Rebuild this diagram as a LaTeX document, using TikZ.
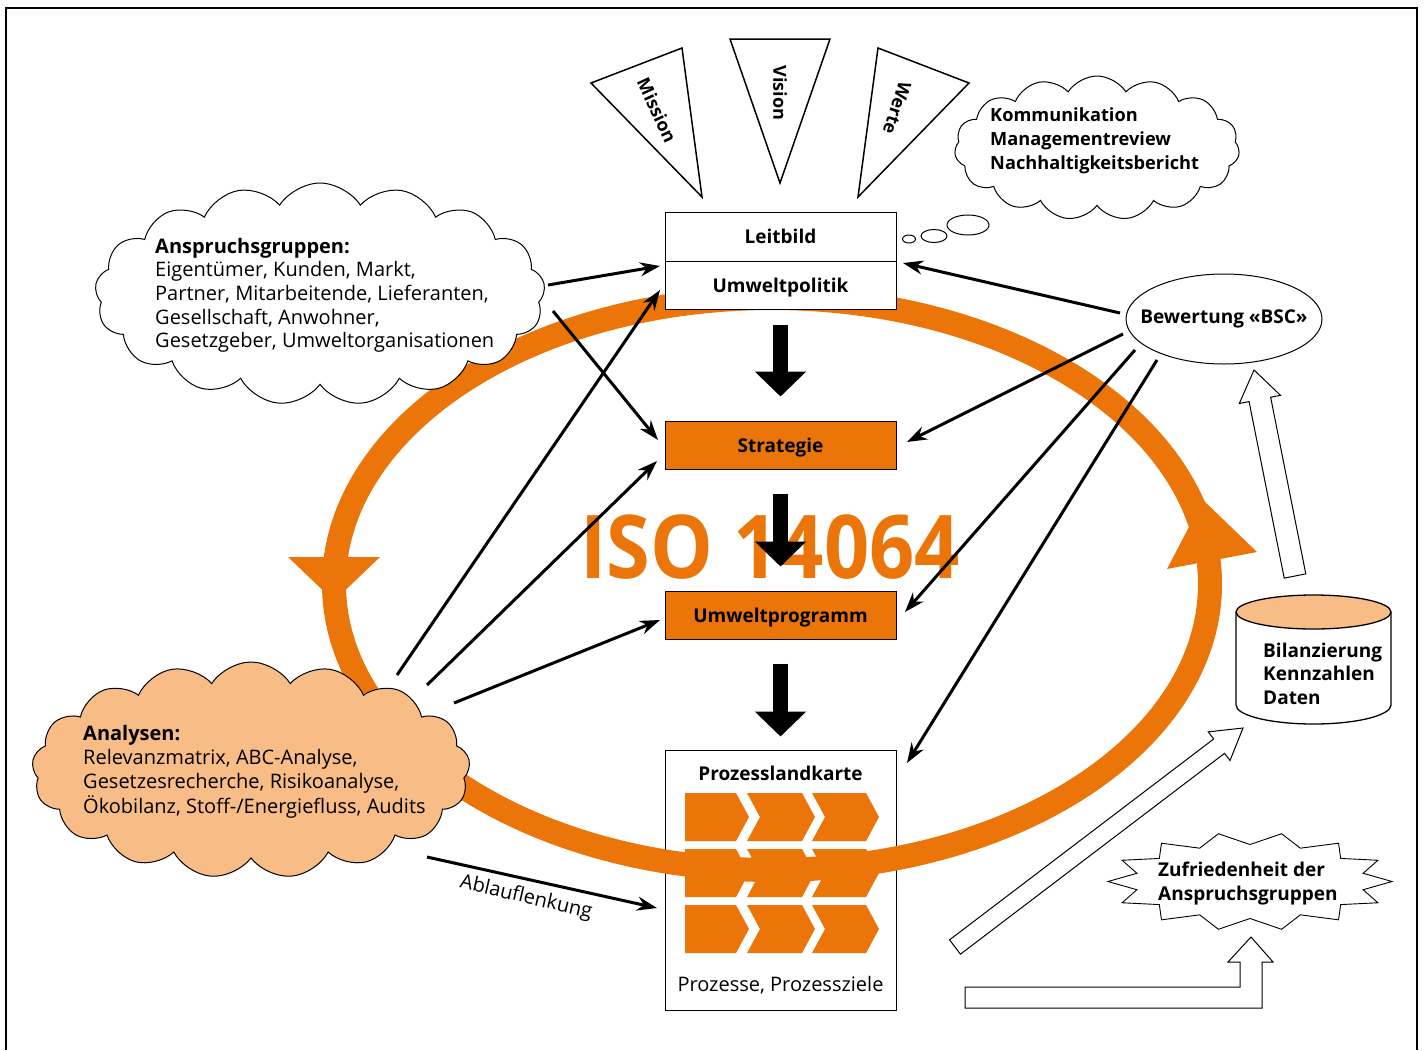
\documentclass[tikz,border=0pt]{standalone}
\usepackage{fontspec}
\setmainfont{Open Sans}
\usetikzlibrary{shapes.symbols,shapes.geometric,arrows.meta,calc}
\definecolor{iso}{HTML}{EB7508}
\definecolor{lightor}{HTML}{F8BC86}
\newcommand{\hollowarr}[5]{%
  \coordinate (hb) at ($(#2)!#5!(#1)$);
  \draw[hollow] ($(#1)!#3!90:(#2)$) -- ($(hb)!#3!-90:(#1)$) -- ($(hb)!#4!-90:(#1)$) -- (#2) -- ($(hb)!#4!90:(#1)$) -- ($(hb)!#3!90:(#1)$) -- ($(#1)!#3!-90:(#2)$) -- cycle;}
\newcommand{\chevrow}[1]{%
  \fill[iso] (685,#1) -- (736,#1) -- (749,#1+24) -- (736,#1+48) -- (685,#1+48) -- cycle;
  \fill[iso] (747,#1) -- (802,#1) -- (815,#1+24) -- (802,#1+48) -- (747,#1+48) -- (760,#1+24) -- cycle;
  \fill[iso] (812,#1) -- (866,#1) -- (879,#1+24) -- (866,#1+48) -- (812,#1+48) -- (825,#1+24) -- cycle;}
\begin{document}
\begin{tikzpicture}[x=1pt,y=-1pt,
  rm/.style={font=\fontsize{20}{23.7}\selectfont},
  bf/.style={font=\fontsize{19}{23.7}\selectfont\bfseries},
  box/.style={draw, line width=1pt, minimum width=231pt, minimum height=48pt, inner sep=0pt,
    text height=16pt, text depth=2pt, font=\fontsize{19}{23.7}\selectfont\bfseries},
  txt/.style={inner sep=0pt, anchor=base west},
  thinarr/.style={line width=3pt, -{Stealth[length=20pt,width=14pt]}},
  fatarr/.style={line width=15pt, -{Triangle[length=25pt,width=50pt]}},
  hollow/.style={draw, line width=1pt, fill=white, line join=miter},
  cloudsty/.style={draw, cloud, cloud puffs=17, cloud puff arc=115, cloud ignores aspect, line width=1pt, inner sep=0pt},
  pennant/.style={draw, line width=1.5pt, fill=white, line join=miter},
  pentext/.style={inner sep=0pt, font=\fontsize{18}{20}\selectfont\bfseries}
]
\useasboundingbox (0,0) rectangle (1424,1050);
% frame
\draw[line width=1.3pt] (6,1050) -- (6,8) -- (1417,8) -- (1417,1050);

% process map box (below ring)
\node[draw, line width=1pt, fill=white, minimum width=231pt, minimum height=260pt, inner sep=0pt] (proz) at (780.5,880) {};
\chevrow{793}
\chevrow{849}
\chevrow{905}

% ring
\draw[iso, line width=24pt] (772,584) ellipse [x radius=438pt, y radius=286pt];
\fill[iso] (288,557) -- (380,557) -- (334,601) -- cycle;
\fill[iso] (1167,569) -- (1257,552) -- (1203,500) -- cycle;

% boxes
\node[box, fill=white, minimum height=49pt] (lb) at (780.5,236.5) {Leitbild};
\node[box, fill=white] (up) at (780.5,285) {Umweltpolitik};
\node[box, fill=iso] (strat) at (780.5,445) {Strategie};
\node[box, fill=iso] (umw) at (780.5,615) {Umweltprogramm};
\node[bf, anchor=base] (proztitle) at (780.5,780.7) {Prozesslandkarte};
\node[rm, anchor=base] (prozsub) at (780.5,991.7) {Prozesse, Prozessziele};

% ISO label
\node[inner sep=0pt, text=iso, xscale=0.9, font=\fontsize{88}{88}\selectfont\bfseries] (isolbl) at (770,547) {ISO 14064};

% fat arrows
\draw[fatarr] ([yshift=-15pt]up.south) -- ([yshift=24pt]strat.north);
\draw[fatarr] ([yshift=-24pt]strat.south) -- ([yshift=24pt]umw.north);
\draw[fatarr] ([yshift=-24pt]umw.south) -- ([yshift=13pt]proz.north);

% pennants
\draw[pennant] (591,83) -- (682,48) -- (702,197) -- cycle;
\draw[pennant] (730,39) -- (830,39) -- (780,183) -- cycle;
\draw[pennant] (878,48) -- (969,83) -- (858,197) -- cycle;
\node[pentext, rotate=-65] (mission) at (657,110) {Mission};
\node[pentext, rotate=-90] (vision) at (780,93) {Vision};
\node[pentext, rotate=-108] (werte) at (897,108) {Werte};

% thought cloud
\node[cloudsty, cloud puffs=15, fill=white, minimum width=285pt, minimum height=144pt] (komm) at (1097,148) {};
\node[draw, ellipse, line width=1pt, minimum width=42pt, minimum height=20pt, inner sep=0pt] (bub1) at (968,225) {};
\node[draw, ellipse, line width=1pt, minimum width=26pt, minimum height=13pt, inner sep=0pt] (bub2) at (934,236) {};
\node[draw, ellipse, line width=1pt, minimum width=13pt, minimum height=8pt, inner sep=0pt] (bub3) at (909,239) {};
\node[txt, font=\fontsize{18.2}{23.7}\selectfont\bfseries] (kommtxt) at (990,121.7) {\begin{tabular}[t]{@{}l@{}}Kommunikation\\Managementreview\\Nachhaltigkeitsbericht\end{tabular}};

% Anspruchsgruppen cloud
\node[cloudsty, fill=white, minimum width=450pt, minimum height=222pt] (ansp) at (320,294) {};
\node[txt, rm] (ansptxt) at (155,253) {\begin{tabular}[t]{@{}l@{}}\textbf{Anspruchsgruppen:}\\Eigentümer, Kunden, Markt,\\Partner, Mitarbeitende, Lieferanten,\\Gesellschaft, Anwohner,\\Gesetzgeber, Umweltorganisationen\end{tabular}};

% Analysen cloud
\node[cloudsty, fill=lightor, minimum width=438pt, minimum height=216pt] (anal) at (251,770) {};
\node[txt, rm] (analtxt) at (83,740.7) {\begin{tabular}[t]{@{}l@{}}\textbf{Analysen:}\\Relevanzmatrix, ABC-Analyse,\\Gesetzesrecherche, Risikoanalyse,\\Ökobilanz, Stoff-/Energiefluss, Audits\end{tabular}};

% Bewertung
\node[draw, ellipse, line width=1pt, minimum width=196pt, minimum height=90pt, inner sep=0pt, fill=white] (bsc) at (1224,319) {};
\node[bf, inner sep=0pt] (bsctxt) at (1224,319) {Bewertung «BSC»};

% cylinder
\draw[line width=1.3pt, fill=white] (1236,612) -- (1236,705) arc[start angle=180, end angle=360, x radius=77.5pt, y radius=19pt] -- (1391,612);
\draw[line width=1.3pt, fill=lightor] (1313.5,612) ellipse [x radius=77.5pt, y radius=17pt];
\node[txt, bf] (cyl) at (1263,657) {\begin{tabular}[t]{@{}l@{}}Bilanzierung\\Kennzahlen\\Daten\end{tabular}};

% starburst
\draw[line width=0.9pt, fill=white, line join=miter, shift={(1250,881.5)}]
  (0:142pt and 49pt)
  \foreach \k in {1,...,13} { -- ({(\k-0.5)*360/14}:116pt and 37pt) -- ({\k*360/14}:142pt and 49pt) }
  -- ({13.5*360/14}:116pt and 37pt) -- cycle;
\node[txt, bf] (zuftxt) at (1158,876.7) {\begin{tabular}[t]{@{}l@{}}Zufriedenheit der\\Anspruchsgruppen\end{tabular}};

% hollow arrows
\coordinate (h1s) at (1295,576);
\coordinate (h1e) at (1254,370);
\hollowarr{h1s}{h1e}{11pt}{21pt}{30pt}
\coordinate (h2s) at (955,947);
\coordinate (h2e) at (1243,728);
\hollowarr{h2s}{h2e}{9pt}{18pt}{30pt}
\draw[hollow] (965,987) -- (1240,987) -- (1240,962) -- (1228,962) -- (1251,937) -- (1273,962) -- (1262,962) -- (1262,1008) -- (965,1008) -- cycle;

% thin arrows
\coordinate (a1s) at (548,285); \coordinate (a1e) at (660,266);
\coordinate (a2s) at (553,311); \coordinate (a2e) at (658,440);
\coordinate (b1s) at (1120,313); \coordinate (b1e) at (903,263);
\coordinate (b2s) at (1123,334); \coordinate (b2e) at (907,442);
\coordinate (b3s) at (1135,350); \coordinate (b3e) at (905,612);
\coordinate (b4s) at (1157,360); \coordinate (b4e) at (907,763);
\coordinate (c1s) at (397,675); \coordinate (c1e) at (660,290);
\coordinate (c2s) at (427,685); \coordinate (c2e) at (657,461);
\coordinate (c3s) at (454,703); \coordinate (c3e) at (660,620);
\coordinate (c4s) at (427,857); \coordinate (c4e) at (657,908);
\foreach \n in {a1,a2,b1,b2,b3,b4,c1,c2,c3,c4} \draw[thinarr] (\n s) -- (\n e);
\node[rm, inner sep=0pt, rotate=-13] (abl) at (526,898) {Ablauflenkung};
\end{tikzpicture}
\end{document}
